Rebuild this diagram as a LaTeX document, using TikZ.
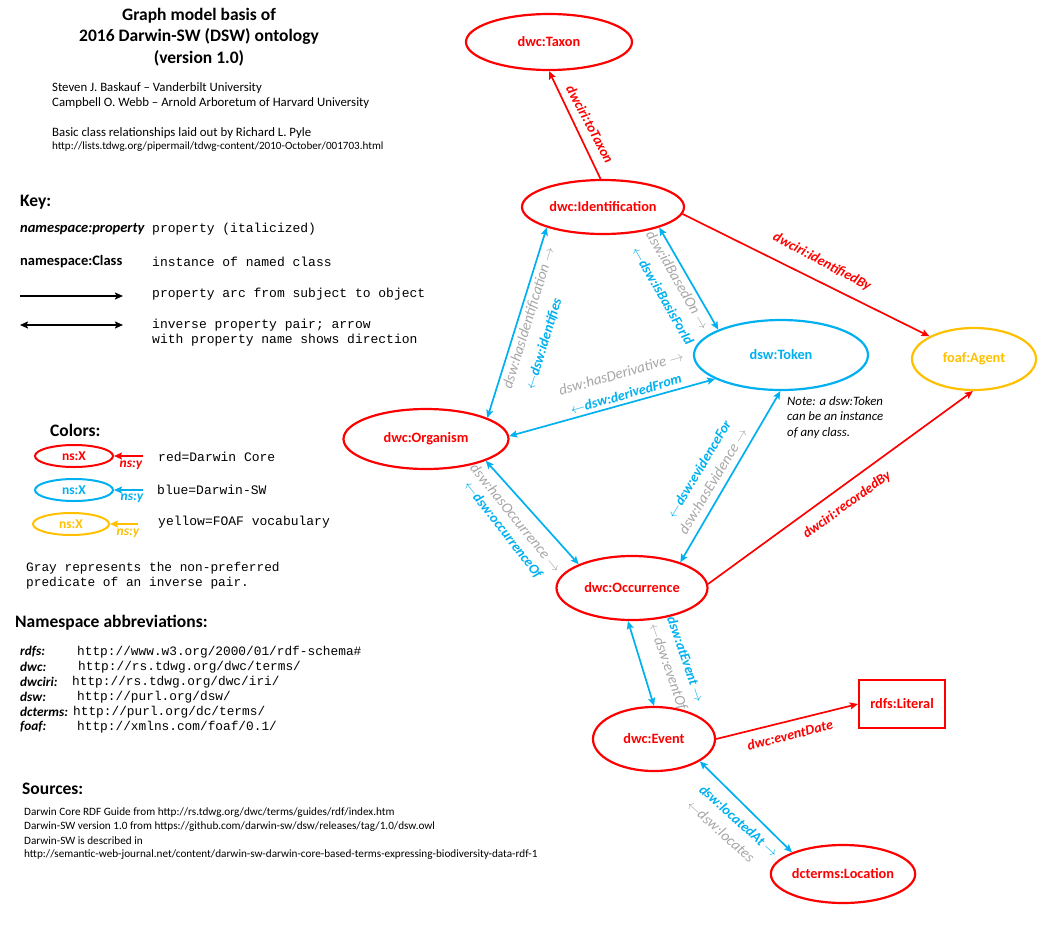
\documentclass[tikz,border=0pt]{standalone}
\usepackage{fontspec}
\setmainfont{Carlito}
\setmonofont{Liberation Mono}
\usetikzlibrary{shapes.geometric,arrows.meta}
\definecolor{dred}{HTML}{FF0000}
\definecolor{dblue}{HTML}{00B0F0}
\definecolor{dyel}{HTML}{FFC000}
\definecolor{dgray}{HTML}{A6A6A6}
\newcommand{\myfs}[1]{\fontsize{#1}{#1}\selectfont}
\tikzset{
  cls/.style={ellipse, line width=2.2pt, inner sep=0pt, font=\myfs{14.3}\bfseries},
  redcls/.style={cls, draw=dred, text=dred},
  bluecls/.style={cls, draw=dblue, text=dblue},
  yelcls/.style={cls, draw=dyel, text=dyel},
  oneway/.style={line width=1.7pt, -{Stealth[length=8pt,width=7pt,inset=1.5pt]}},
  twoway/.style={line width=1.7pt, {Stealth[length=8pt,width=7pt,inset=1.5pt]}-{Stealth[length=8pt,width=7pt,inset=1.5pt]}},
  rlbl/.style={font=\myfs{14}\bfseries\itshape, text=dred, inner sep=0pt},
  blbl/.style={font=\myfs{14}\bfseries\itshape, text=dblue, inner sep=0pt},
  glbl/.style={font=\myfs{15}\itshape, text=dgray, inner sep=0pt},
  txt/.style={anchor=west, inner sep=0pt},
  mono/.style={txt, font=\myfs{13}\ttfamily},
  head/.style={txt, font=\myfs{17.5}\bfseries},
  nsl/.style={txt, font=\myfs{13.3}\bfseries\itshape},
  nsu/.style={txt, font=\myfs{12.8}\ttfamily},
  legcls/.style={ellipse, line width=2pt, inner sep=0pt, minimum width=78pt, minimum height=22pt, font=\myfs{13.5}\bfseries},
  legy/.style={font=\myfs{13.5}\bfseries\itshape, inner sep=0pt},
}
\begin{document}
\begin{tikzpicture}[x=1pt,y=-1pt]
\useasboundingbox (0,0) rectangle (1052,924);

% ---------- title block ----------
\node[font=\fontsize{17.5}{21.5}\selectfont\bfseries, align=center, inner sep=0pt] (title) at (199,37)
  {Graph model basis of\\2016 Darwin-SW (DSW) ontology\\(version 1.0)};
\node[txt, font=\myfs{12.8}] (auth1) at (52,88) {Steven J. Baskauf – Vanderbilt University};
\node[txt, font=\myfs{12.8}] (auth2) at (52,103) {Campbell O. Webb – Arnold Arboretum of Harvard University};
\node[txt, font=\myfs{12.8}] (pyle) at (52,133) {Basic class relationships laid out by Richard L. Pyle};
\node[txt, font=\myfs{11.1}] (pyleurl) at (52,147) {http://lists.tdwg.org/pipermail/tdwg-content/2010-October/001703.html};

% ---------- key ----------
\node[head] (key) at (20,202) {Key:};
\node[txt, font=\myfs{14.5}\bfseries\itshape] (kprop) at (20,229) {namespace:property};
\node[mono] (kpropt) at (152,229) {property (italicized)};
\node[txt, font=\myfs{14.5}\bfseries] (kcls) at (20,262) {namespace:Class};
\node[mono] (kclst) at (152,262) {instance of named class};
\coordinate (ka1) at (20,296);
\coordinate (ka2) at (123,296);
\draw[oneway] (ka1) -- (ka2);
\node[mono] (karct) at (152,294) {property arc from subject to object};
\coordinate (kb1) at (20,325);
\coordinate (kb2) at (123,325);
\draw[twoway] (kb1) -- (kb2);
\node[mono] (kinv1) at (152,325) {inverse property pair; arrow};
\node[mono] (kinv2) at (152,340) {with property name shows direction};

% ---------- colours ----------
\node[head] (colors) at (50,430) {Colors:};
\node[legcls, draw=dred, text=dred] (legr) at (74,456) {ns:X};
\coordinate (legra) at (143,456);
\draw[oneway, dred] (legra) -- (legr.east);
\node[legy, text=dred] (legry) at (131,465) {ns:y};
\node[mono] (legrt) at (158,457) {red=Darwin Core};
\node[legcls, draw=dblue, text=dblue] (legb) at (74,490) {ns:X};
\coordinate (legba) at (143,490);
\draw[oneway, dblue] (legba) -- (legb.east);
\node[legy, text=dblue] (legby) at (132,498) {ns:y};
\node[mono] (legbt) at (157,490) {blue=Darwin-SW};
\node[legcls, draw=dyel, text=dyel, minimum width=76pt] (legy) at (71,524) {ns:X};
\coordinate (legya) at (138,524);
\draw[oneway, dyel] (legya) -- (legy.east);
\node[legy, text=dyel] (legyy) at (128,533) {ns:y};
\node[mono] (legyt) at (158,522) {yellow=FOAF vocabulary};
\node[mono, font=\myfs{12.8}\ttfamily] (gray1) at (26,568) {Gray represents the non-preferred};
\node[mono, font=\myfs{12.8}\ttfamily] (gray2) at (26,583) {predicate of an inverse pair.};

% ---------- namespaces ----------
\node[head] (nshead) at (15,623) {Namespace abbreviations:};
\node[nsl] (ns1) at (20,652) {rdfs:};    \node[nsu] (nu1) at (77,652) {http://www.w3.org/2000/01/rdf-schema\#};
\node[nsl] (ns2) at (20,667) {dwc:};     \node[nsu] (nu2) at (78,667) {http://rs.tdwg.org/dwc/terms/};
\node[nsl] (ns3) at (20,682) {dwciri:};  \node[nsu] (nu3) at (72,682) {http://rs.tdwg.org/dwc/iri/};
\node[nsl] (ns4) at (20,697) {dsw:};     \node[nsu] (nu4) at (77,697) {http://purl.org/dsw/};
\node[nsl] (ns5) at (20,712) {dcterms:}; \node[nsu] (nu5) at (73,712) {http://purl.org/dc/terms/};
\node[nsl] (ns6) at (20,727) {foaf:};    \node[nsu] (nu6) at (77,727) {http://xmlns.com/foaf/0.1/};

% ---------- sources ----------
\node[head] (src) at (22,789) {Sources:};
\node[txt, font=\myfs{11.2}] (s1) at (24,813) {Darwin Core RDF Guide from http://rs.tdwg.org/dwc/terms/guides/rdf/index.htm};
\node[txt, font=\myfs{11.2}] (s2) at (24,827) {Darwin-SW version 1.0 from https://github.com/darwin-sw/dsw/releases/tag/1.0/dsw.owl};
\node[txt, font=\myfs{11.2}] (s3) at (24,841) {Darwin-SW is described in};
\node[txt, font=\myfs{11.2}] (s4) at (24,855) {http://semantic-web-journal.net/content/darwin-sw-darwin-core-based-terms-expressing-biodiversity-data-rdf-1};

% ---------- class nodes ----------
\node[redcls, minimum width=166pt, minimum height=56pt] (taxon) at (549,42) {dwc:Taxon};
\node[redcls, minimum width=162pt, minimum height=54pt] (ident) at (603,207) {dwc:Identification};
\node[bluecls, minimum width=174pt, minimum height=70pt] (token) at (781,355) {dsw:Token};
\node[yelcls, minimum width=124pt, minimum height=62pt] (agent) at (974,359) {foaf:Agent};
\node[redcls, minimum width=165pt, minimum height=60pt] (org) at (426,439) {dwc:Organism};
\node[redcls, minimum width=151pt, minimum height=64pt] (occ) at (632,588) {dwc:Occurrence};
\node[redcls, minimum width=122pt, minimum height=64pt] (event) at (654,739) {dwc:Event};
\node[draw=dred, text=dred, line width=2.2pt, minimum width=86pt, minimum height=48pt, inner sep=0pt, font=\myfs{14.3}\bfseries] (lit) at (902,704) {rdfs:Literal};
\node[redcls, minimum width=123pt, minimum height=58pt] (loc) at (843,874) {dcterms:Location};

\node[anchor=north west, align=left, inner sep=0pt, font=\fontsize{12.8}{15.5}\selectfont\itshape] (note) at (787,396)
  {Note: a dsw:Token\\can be an instance\\of any class.};

% ---------- connectors ----------
\draw[oneway, dred] (ident.95) -- (taxon.south);
\draw[oneway, dred] (ident.-5) -- (agent.153);
\draw[oneway, dred] (occ.3) -- (agent.-92);
\draw[oneway, dred] (event.east) -- (lit.west);
\draw[twoway, dblue] (ident.-160) -- (org.19);
\draw[twoway, dblue] (ident.-20) -- (token.158);
\draw[twoway, dblue] (token.-160) -- (org.2);
\draw[twoway, dblue] (org.-20) -- (occ.156);
\draw[twoway, dblue] (token.-91) -- (occ.28);
\draw[twoway, dblue] (occ.-97) -- (event.north);
\draw[twoway, dblue] (event.-26) -- (loc.157);

% ---------- connector labels ----------
\node[rlbl, rotate=-62] (lToTaxon) at (590,124) {dwciri:toTaxon};
\node[rlbl, rotate=-28] (lIdBy) at (822,262) {dwciri:identifiedBy};
\node[rlbl, rotate=36] (lRecBy) at (847,505) {dwciri:recordedBy};
\node[rlbl, rotate=14] (lDate) at (790,735) {dwc:eventDate};
\node[glbl, rotate=73] (lHasId) at (529,318) {dsw:hasIdentification $\rightarrow$};
\node[blbl, rotate=73] (lIdf) at (544,344) {$\leftarrow$dsw:identifies};
\node[glbl, rotate=-60] (lIdBased) at (678,280) {dsw:idBasedOn $\rightarrow$};
\node[blbl, rotate=-60] (lBasis) at (663,296) {$\leftarrow$dsw:isBasisForId};
\node[glbl, rotate=16] (lHasDer) at (621,373) {dsw:hasDerivative $\rightarrow$};
\node[blbl, rotate=16] (lDerFrom) at (626,394) {$\leftarrow$dsw:derivedFrom};
\node[glbl, rotate=-51] (lHasOcc) at (516,518) {dsw:hasOccurrence $\rightarrow$};
\node[blbl, rotate=-52] (lOccOf) at (503,530) {$\leftarrow$dsw:occurrenceOf};
\node[blbl, rotate=59] (lEvFor) at (699,469) {$\leftarrow$dsw:evidenceFor};
\node[glbl, rotate=59] (lHasEv) at (713,481) {dsw:hasEvidence $\rightarrow$};
\node[blbl, rotate=-71] (lAtEv) at (686,659) {dsw:atEvent $\rightarrow$};
\node[glbl, rotate=-71] (lEvOf) at (668,667) {$\leftarrow$dsw:eventOf};
\node[blbl, rotate=-42] (lLocAt) at (739,821) {dsw:locatedAt $\rightarrow$};
\node[glbl, rotate=-42] (lLocs) at (721,831) {$\leftarrow$dsw:locates};
\end{tikzpicture}
\end{document}
